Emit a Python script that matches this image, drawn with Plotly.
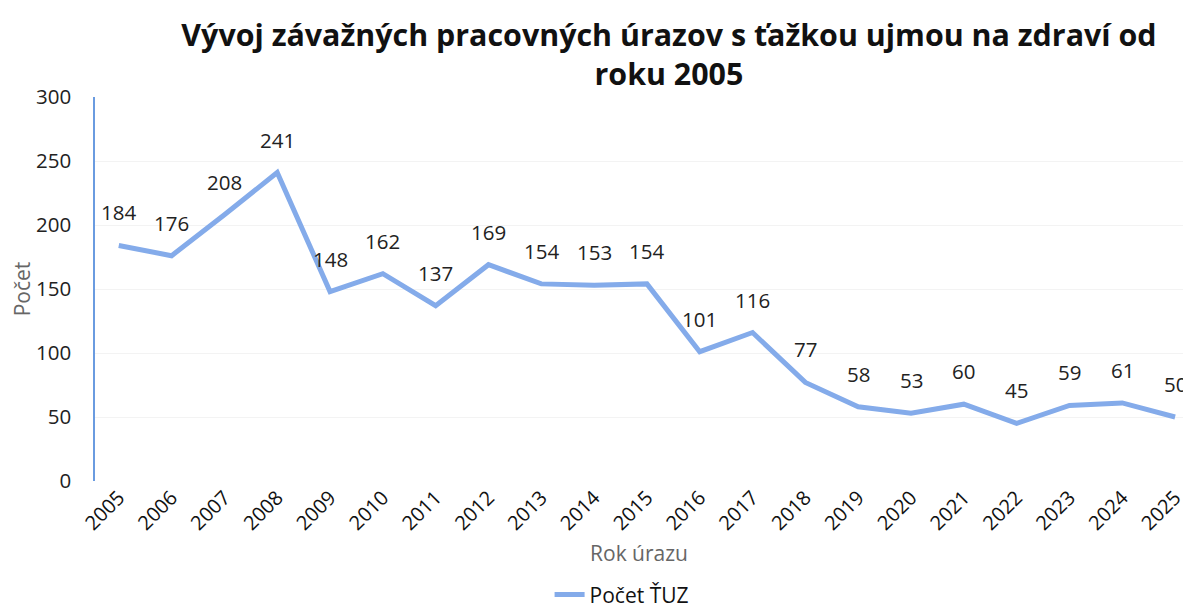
import plotly.graph_objects as go

years = [str(y) for y in range(2005, 2026)]
counts = [184, 176, 208, 241, 148, 162, 137, 169, 154, 153, 154, 101, 116, 77, 58, 53, 60, 45, 59, 61, 50]
title_text = "<b>Vývoj závažných pracovných úrazov s ťažkou ujmou na zdraví od<br>roku 2005</b>"
series_name = "Počet ŤUZ"
x_title = "Rok úrazu"
y_title = "Počet"

font_family = "Open Sans, Noto Sans, sans-serif"
line_color = "#84abea"

fig = go.Figure()
fig.add_trace(go.Scatter(
    x=years, y=counts, mode="lines", name=series_name,
    line=dict(color=line_color, width=5),
))

for i, y in enumerate(counts):
    fig.add_annotation(x=i, y=y, xref="x", yref="y", text=str(y), showarrow=False, yshift=33,
                       font=dict(size=20.5, color="#222222", family=font_family))

# page body has an 8px default margin, so the figure is sized/offset accordingly
fig.update_layout(
    width=1183, height=601,
    paper_bgcolor="white", plot_bgcolor="white",
    margin=dict(l=87, r=8, t=89, b=128, autoexpand=False),
    title=dict(text=title_text, x=0.5587, xanchor="center", y=0.9374, yanchor="middle",
               font=dict(size=30.4, color="#111111", family=font_family)),
    showlegend=True,
    legend=dict(orientation="h", x=0.484, xanchor="center", y=-0.243, yanchor="top",
                font=dict(size=21, color="#111111", family=font_family)),
    xaxis=dict(
        type="category", range=[-0.45, 20.15], tickangle=-45, automargin=False,
        tickfont=dict(size=20, color="#111111", family=font_family),
        showgrid=False, showline=False, zeroline=False,
        title=dict(text=x_title, font=dict(size=21, color="#666666", family=font_family), standoff=11),
    ),
    yaxis=dict(
        range=[0, 300], dtick=50, automargin=False,
        tickfont=dict(size=20.5, color="#222222", family=font_family),
        ticklabelstandoff=18,
        showgrid=True, gridcolor="#f3f3f3", zeroline=False,
        showline=True, linecolor="#6a9be0", linewidth=1.5,
        ticks="", ticklen=0,
        title=dict(text=y_title, font=dict(size=21, color="#666666", family=font_family), standoff=8),
    ),
)

fig.write_html("out.html")
